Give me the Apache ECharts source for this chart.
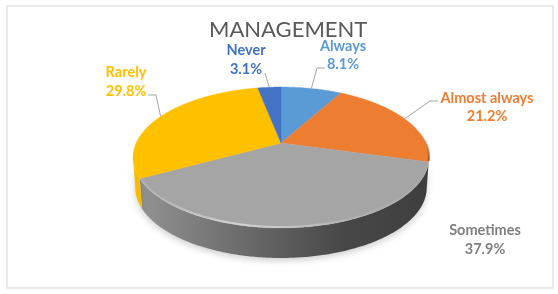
<!DOCTYPE html>
<html><head><meta charset="utf-8">
<style>html,body{margin:0;padding:0;background:#fff}#c{width:558px;height:294px}</style>
<script src="https://cdn.jsdelivr.net/npm/echarts@6/dist/echarts.min.js"></script>
</head><body><div id="c"></div>
<script>
var categories = ['Always', 'Almost always', 'Sometimes', 'Rarely', 'Never'];
var shares = [8.1, 21.2, 37.9, 29.8, 3.1];
var sliceColors = ['#5B9BD5', '#ED7D31', '#A5A5A5', '#FFC000', '#4472C4'];
var labelColors = ['#5B9BD5', '#ED7D31', '#7F7F7F', '#FFC000', '#3F74C0'];
var tickLabels = ['8.1%', '21.2%', '37.9%', '29.8%', '3.1%'];

// perspective disc
var CX = 281, CY = 143, A = 144.8, B = 67.5, K = 0.2057, DEPTH = 30, SHRINK = 0.985;
// angles where the outline is tangent to the vertical: only the part between them shows a wall
var FRONT0 = Math.acos(-K) * 180 / Math.PI, FRONT1 = 360 - FRONT0;
function proj(deg) {
  var t = deg * Math.PI / 180, u = Math.sin(t), v = -Math.cos(t), d = 1 - K * v;
  return [CX + A * u / d, CY + B * v / d];
}
function low(p) { return [CX + (p[0] - CX) * SHRINK, p[1] + DEPTH]; }
function arc(a0, a1) {
  var n = Math.max(2, Math.ceil((a1 - a0) * 1.5)), out = [];
  for (var i = 0; i <= n; i++) out.push(proj(a0 + (a1 - a0) * i / n));
  return out;
}
var total = shares.reduce(function (s, v) { return s + v; }, 0);
var starts = [];
shares.reduce(function (s, v, i) { starts[i] = s; return s + v; }, 0);

var G = echarts.graphic.LinearGradient;
var wallFill = [
  '#4f83b5',
  '#8A4A1C',
  new G(0, 0, 1, 0, [{offset: 0, color: '#929292'}, {offset: 0.35, color: '#6c6c6c'}, {offset: 0.7, color: '#484848'}, {offset: 1, color: '#3e3e3e'}]),
  '#F6BA00',
  '#365f9e'
];
// rim shading along the outer edge of the slices with a visible bevel
var rimStroke = {
  1: {from: 85, stroke: new G(0, 0, 0, 1, [{offset: 0, color: 'rgba(120,65,20,0)'}, {offset: 1, color: 'rgba(120,65,20,0.75)'}])},
  2: {from: 0, stroke: new G(0, 0, 1, 0, [{offset: 0, color: 'rgba(255,255,255,0.1)'}, {offset: 0.35, color: 'rgba(255,255,255,0.5)'}, {offset: 0.7, color: 'rgba(255,255,255,0.15)'}, {offset: 1, color: 'rgba(255,255,255,0)'}])}
};
// label anchors: [centre x, name line y, value line y], leader bend points
var labelAt = [
  {x: 343, y1: 46, y2: 64, bend: [[317, 68], [325, 68]]},
  {x: 487, y1: 98, y2: 116, bend: [[430, 101], [438, 101]]},
  {x: 485, y1: 230, y2: 249, bend: null},
  {x: 126, y1: 72, y2: 91, bend: [[156, 95], [148, 95]]},
  {x: 246, y1: 50, y2: 69, bend: [[265, 73]]}
];

function renderItem(params, api) {
  var i = params.dataIndex, val = api.value(0);
  var a0 = starts[i] / total * 360, a1 = (starts[i] + val) / total * 360, mid = (a0 + a1) / 2;
  var edge = arc(a0, a1), kids = [];
  var w0 = Math.max(a0, FRONT0), w1 = Math.min(a1, FRONT1);
  if (w1 > w0) {
    var front = arc(w0, w1);
    kids.push({type: 'polygon', z2: 1, shape: {points: front.concat(front.slice().reverse().map(low))},
      style: {fill: wallFill[i], shadowBlur: 6, shadowColor: 'rgba(0,0,0,0.18)', shadowOffsetY: 3}});
  }
  kids.push({type: 'polygon', z2: 10, shape: {points: [[CX, CY]].concat(edge)},
    style: {fill: sliceColors[i], stroke: sliceColors[i], lineWidth: 0.4}});
  if (rimStroke[i]) {
    kids.push({type: 'polyline', z2: 11, shape: {points: arc(Math.max(a0, rimStroke[i].from), a1).map(function (p) { return [p[0], p[1] - 1]; })},
      style: {fill: null, lineWidth: 2, stroke: rimStroke[i].stroke}});
  }
  var L = labelAt[i];
  if (L.bend) {
    kids.push({type: 'polyline', z2: 12, shape: {points: [proj(mid)].concat(L.bend)},
      style: {fill: null, stroke: '#A6A6A6', lineWidth: 1}});
  }
  [[categories[i], L.y1], [tickLabels[i], L.y2]].forEach(function (t) {
    kids.push({type: 'text', z2: 13, style: {text: t[0], x: L.x, y: t[1], align: 'center', verticalAlign: 'middle',
      fill: labelColors[i], font: 'bold 14.5px Lato, "Open Sans", sans-serif'}});
  });
  return {type: 'group', children: kids};
}

var chart = echarts.init(document.getElementById('c'));
chart.setOption({
  animation: false,
  backgroundColor: '#fff',
  title: {text: 'MANAGEMENT', left: 204, top: 14,
    textStyle: {color: '#595959', fontSize: 22, fontWeight: 'normal', fontFamily: 'Lato, sans-serif'}},
  graphic: [{type: 'rect', shape: {x: 7, y: 6, width: 546, height: 282},
    style: {fill: null, stroke: '#E4E4E4', lineWidth: 1.5}, z: -1}],
  series: [{type: 'custom', coordinateSystem: 'none', renderItem: renderItem,
    data: shares.map(function (v, i) { return {name: categories[i], value: [v]}; })}]
});
</script></body></html>
